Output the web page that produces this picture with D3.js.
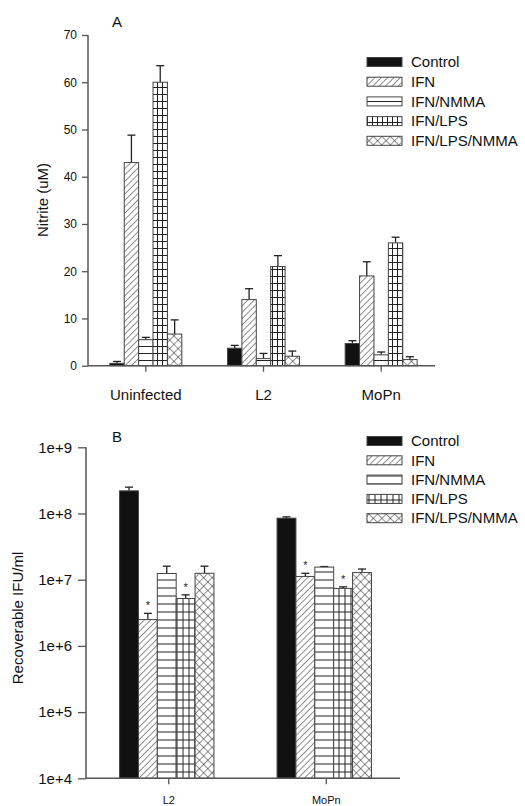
<!DOCTYPE html>
<html>
<head>
<meta charset="utf-8">
<script src="https://cdn.jsdelivr.net/npm/d3@7"></script>
<style>
  body { margin: 0; background: #fff; }
  svg { font-family: "Liberation Sans", Arial, sans-serif; }
</style>
</head>
<body>
<div id="chart"></div>
<script>
const series = ["Control", "IFN", "IFN/NMMA", "IFN/LPS", "IFN/LPS/NMMA"];

// panel A: nitrite (uM)
const groupsA = ["Uninfected", "L2", "MoPn"];
const nitriteMean = [
  [0.5, 3.7, 4.7],
  [43, 14, 19],
  [5.5, 1.5, 2.3],
  [60, 21, 26],
  [6.7, 2.0, 1.3]
];
const nitriteErr = [
  [0.4, 0.6, 0.6],
  [5.8, 2.3, 3.0],
  [0.5, 1.1, 0.6],
  [3.5, 2.3, 1.2],
  [3.0, 1.1, 0.6]
];
const ticksA = [0, 10, 20, 30, 40, 50, 60, 70];

// panel B: recoverable IFU/ml
const groupsB = ["L2", "MoPn"];
const ifuMean = [
  [2.2e8, 8.5e7],
  [2.5e6, 1.12e7],
  [1.24e7, 1.55e7],
  [5.2e6, 7.4e6],
  [1.25e7, 1.28e7]
];
const ifuErr = [
  [3.0e7, 4.0e6],
  [6.0e5, 1.3e6],
  [3.6e6, 3.0e5],
  [7.0e5, 4.0e5],
  [3.5e6, 1.7e6]
];
const ifuStar = [
  [false, false],
  [true, true],
  [false, false],
  [true, true],
  [false, false]
];
const ticksB = [1e4, 1e5, 1e6, 1e7, 1e8, 1e9];

const W = 525, H = 806;
const ink = "#222", axisCol = "#555";

const svg = d3.select("#chart").append("svg")
  .attr("width", W).attr("height", H);

const defs = svg.append("defs");

function makePatterns(prefix, gridX, gridY, hSpace) {
  let p = defs.append("pattern").attr("id", prefix + "diag")
    .attr("patternUnits", "userSpaceOnUse").attr("width", 4.5).attr("height", 4.5)
    .attr("patternTransform", "rotate(45)");
  p.append("rect").attr("width", 4.5).attr("height", 4.5).attr("fill", "#fff");
  p.append("line").attr("x1", 0).attr("y1", 0).attr("x2", 0).attr("y2", 4.5)
    .attr("stroke", ink).attr("stroke-width", 1);

  p = defs.append("pattern").attr("id", prefix + "horiz")
    .attr("patternUnits", "userSpaceOnUse").attr("width", 10).attr("height", hSpace);
  p.append("rect").attr("width", 10).attr("height", hSpace).attr("fill", "#fff");
  p.append("line").attr("x1", 0).attr("y1", hSpace / 2).attr("x2", 10).attr("y2", hSpace / 2)
    .attr("stroke", ink).attr("stroke-width", 1);

  p = defs.append("pattern").attr("id", prefix + "grid")
    .attr("patternUnits", "userSpaceOnUse").attr("width", gridX).attr("height", gridY);
  p.append("rect").attr("width", gridX).attr("height", gridY).attr("fill", "#fff");
  p.append("line").attr("x1", 0).attr("y1", gridY / 2).attr("x2", gridX).attr("y2", gridY / 2)
    .attr("stroke", ink).attr("stroke-width", 1);
  p.append("line").attr("x1", gridX / 2).attr("y1", 0).attr("x2", gridX / 2).attr("y2", gridY)
    .attr("stroke", ink).attr("stroke-width", 1);

  p = defs.append("pattern").attr("id", prefix + "cross")
    .attr("patternUnits", "userSpaceOnUse").attr("width", 6).attr("height", 6)
    .attr("patternTransform", "rotate(45)");
  p.append("rect").attr("width", 6).attr("height", 6).attr("fill", "#fff");
  p.append("line").attr("x1", 0).attr("y1", 0).attr("x2", 0).attr("y2", 6)
    .attr("stroke", ink).attr("stroke-width", 1);
  p.append("line").attr("x1", 0).attr("y1", 0).attr("x2", 6).attr("y2", 0)
    .attr("stroke", ink).attr("stroke-width", 1);

  return ["#111", `url(#${prefix}diag)`, `url(#${prefix}horiz)`, `url(#${prefix}grid)`, `url(#${prefix}cross)`];
}

const fillA = makePatterns("a", 5, 7, 7);
const fillB = makePatterns("b", 6, 8, 8);

function drawLegend(x, y0, step, fills) {
  const lg = svg.append("g");
  series.forEach((s, i) => {
    const y = y0 + i * step;
    lg.append("rect")
      .attr("x", x).attr("y", y - 4.5).attr("width", 35).attr("height", 9)
      .attr("fill", fills[i]).attr("stroke", "#444").attr("stroke-width", 1);
    lg.append("text")
      .attr("x", x + 44).attr("y", y).attr("dy", "0.35em")
      .attr("font-size", 15).attr("fill", "#111").text(s);
  });
}

function drawBars(g, groups, means, errs, x, xi, y, y0, fills, stars) {
  series.forEach((s, si) => {
    groups.forEach((grp, gi) => {
      const v = means[si][gi];
      const bx = x(grp) + xi(s);
      const bw = xi.bandwidth();
      const cx = bx + bw / 2;
      const top = y(v + errs[si][gi]);
      g.append("line")
        .attr("x1", cx).attr("x2", cx).attr("y1", y(v)).attr("y2", top)
        .attr("stroke", ink).attr("stroke-width", 1.3);
      g.append("line")
        .attr("x1", cx - 4).attr("x2", cx + 4).attr("y1", top).attr("y2", top)
        .attr("stroke", ink).attr("stroke-width", 1.3);
      g.append("rect")
        .attr("x", bx).attr("y", y(v)).attr("width", bw).attr("height", y0 - y(v))
        .attr("fill", fills[si]).attr("stroke", "#444").attr("stroke-width", 1);
      if (stars && stars[si][gi]) {
        g.append("text")
          .attr("x", cx).attr("y", top - 4).attr("text-anchor", "middle")
          .attr("font-size", 11).attr("fill", "#222").text("*");
      }
    });
  });
}

function styleAxis(a, size) {
  a.select(".domain").remove();
  a.selectAll("line").attr("stroke", axisCol).attr("stroke-width", 1.3);
  a.selectAll("text").attr("font-size", size).attr("fill", "#111")
    .attr("font-family", "Liberation Sans, Arial, sans-serif");
}

// ---------- Panel A ----------
const gA = svg.append("g");
const yA = d3.scaleLinear().domain([0, 70]).range([365.7, 35]);
const xA = d3.scaleBand().domain(groupsA).range([87, 440]);
const innerA = d3.scaleBand().domain(series).range([xA.bandwidth() / 2 - 36, xA.bandwidth() / 2 + 36]);

drawBars(gA, groupsA, nitriteMean, nitriteErr, xA, innerA, yA, yA(0), fillA, null);

gA.append("g").attr("transform", "translate(88,0)")
  .call(d3.axisLeft(yA).tickValues(ticksA).tickSize(6).tickSizeOuter(0).tickPadding(5))
  .call(a => styleAxis(a, 12));
gA.append("line").attr("x1", 88).attr("x2", 88).attr("y1", yA(70)).attr("y2", yA(0))
  .attr("stroke", axisCol).attr("stroke-width", 1.5);

gA.append("g").attr("transform", `translate(0,${yA(0)})`)
  .call(d3.axisBottom(xA).tickSize(6).tickSizeOuter(0).tickPadding(18))
  .call(a => styleAxis(a, 15));
gA.append("line").attr("x1", 88).attr("x2", 435).attr("y1", yA(0)).attr("y2", yA(0))
  .attr("stroke", axisCol).attr("stroke-width", 1.5);

svg.append("text").attr("x", 117).attr("y", 22).attr("dy", "0.35em")
  .attr("text-anchor", "middle").attr("font-size", 15).attr("fill", "#111").text("A");
svg.append("text").attr("transform", "translate(43,200) rotate(-90)")
  .attr("text-anchor", "middle").attr("dy", "0.35em")
  .attr("font-size", 15).attr("fill", "#111").text("Nitrite (uM)");

drawLegend(367, 62, 19.7, fillA);

// ---------- Panel B ----------
const gB = svg.append("g");
const yB = d3.scaleLog().domain([1e4, 1e9]).range([778.3, 447.3]);
const xB = d3.scaleBand().domain(groupsB).range([88, 403]);
const innerB = d3.scaleBand().domain(series).range([xB.bandwidth() / 2 - 47.2, xB.bandwidth() / 2 + 47.2]);

drawBars(gB, groupsB, ifuMean, ifuErr, xB, innerB, yB, yB(1e4), fillB, ifuStar);

gB.append("g").attr("transform", "translate(86,0)")
  .call(d3.axisLeft(yB).tickValues(ticksB).tickSize(8).tickSizeOuter(0).tickPadding(6)
    .tickFormat(d => "1e+" + Math.round(Math.log10(d))))
  .call(a => styleAxis(a, 15));
gB.append("line").attr("x1", 86).attr("x2", 86).attr("y1", yB(1e9)).attr("y2", yB(1e4))
  .attr("stroke", axisCol).attr("stroke-width", 1.5);

gB.append("g").attr("transform", `translate(2,${yB(1e4)})`)
  .call(d3.axisBottom(xB).tickSize(6).tickSizeOuter(0).tickPadding(12))
  .call(a => styleAxis(a, 11));
gB.append("line").attr("x1", 86).attr("x2", 400).attr("y1", yB(1e4)).attr("y2", yB(1e4))
  .attr("stroke", axisCol).attr("stroke-width", 1.5);

svg.append("text").attr("x", 117).attr("y", 437).attr("dy", "0.35em")
  .attr("text-anchor", "middle").attr("font-size", 15).attr("fill", "#111").text("B");
svg.append("text").attr("transform", "translate(18,618) rotate(-90)")
  .attr("text-anchor", "middle").attr("dy", "0.35em")
  .attr("font-size", 15).attr("fill", "#111").text("Recoverable IFU/ml");

drawLegend(367, 441, 19.3, fillB);
</script>
</body>
</html>
